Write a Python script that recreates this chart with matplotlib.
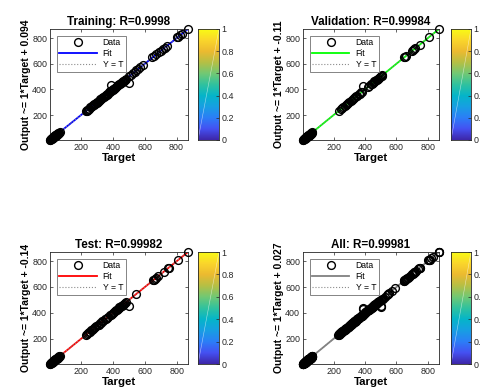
import matplotlib
matplotlib.use('Agg')
import matplotlib.pyplot as plt
import numpy as np
from matplotlib.colors import LinearSegmentedColormap

plt.rcParams['font.family'] = ['Liberation Sans', 'DejaVu Sans']

# ---- data ----
blob_t = [5, 7, 9, 11, 13, 15, 17, 19, 21, 23, 25, 27, 29, 31, 33, 35, 37, 39,
          41, 43, 45, 47, 49, 51, 53, 55, 57, 59, 62, 65]
blob_y = [6, 5, 11, 10, 15, 13, 19, 18, 22, 25, 24, 29, 28, 33, 31, 37, 35, 41,
          40, 45, 44, 49, 47, 53, 52, 57, 55, 61, 63, 66]

train_t = blob_t + [232, 236, 240, 244, 248, 252, 257, 262, 266, 270, 275, 280,
                    284, 288, 293, 298, 302, 306, 311, 316, 320, 325, 330, 334,
                    338, 343, 348, 352, 356, 361, 366, 370, 375, 380, 384, 388,
                    393, 398, 402, 407, 412, 416, 420, 425, 430, 434, 438, 443,
                    448, 452, 456, 461, 466, 470, 474, 478, 482,
                    500, 512, 525, 538, 548, 556, 570, 590, 648, 660, 672, 690,
                    700, 712, 725, 740, 805, 812, 822, 832, 870, 389, 504]
train_y = blob_y + [234, 233, 243, 242, 250, 249, 259, 260, 268, 268, 277, 278,
                    286, 287, 295, 296, 304, 305, 313, 314, 322, 323, 332, 332,
                    340, 341, 350, 350, 358, 359, 368, 368, 377, 378, 386, 387,
                    395, 396, 404, 405, 414, 414, 422, 423, 432, 432, 440, 441,
                    450, 450, 458, 459, 468, 468, 476, 476, 484,
                    502, 512, 527, 537, 550, 556, 572, 590, 650, 660, 674, 690,
                    702, 712, 727, 740, 807, 812, 824, 832, 872, 435, 452]

val_t = blob_t + [232, 245, 255, 262, 270, 278, 285, 292, 300, 308, 315, 322,
                  330, 338, 345, 352, 360, 368, 375, 380, 420, 428, 440, 445,
                  450, 455, 460, 465, 470, 475, 480, 485, 490, 495, 500, 505,
                  510, 650, 655, 660, 698, 705, 712, 720, 748, 808, 870, 390]
val_y = blob_y + [234, 244, 257, 261, 272, 277, 287, 291, 302, 307, 317, 321,
                  332, 337, 347, 351, 362, 367, 377, 379, 422, 427, 442, 444,
                  452, 454, 462, 464, 472, 474, 482, 484, 492, 494, 502, 504,
                  512, 652, 654, 662, 700, 704, 714, 719, 750, 808, 871, 430]

test_t = blob_t + [230, 236, 242, 248, 255, 262, 268, 275, 282, 290, 296, 303,
                   310, 318, 325, 332, 340, 348, 355, 362, 370, 378, 385, 392,
                   400, 408, 415, 420, 425, 430, 435, 440, 445, 450, 455, 460,
                   465, 470, 475, 480, 545, 648, 655, 662, 670, 680, 718, 745,
                   750, 808, 870, 500]
test_y = blob_y + [228, 237, 241, 250, 254, 264, 267, 277, 281, 292, 295, 305,
                   309, 320, 324, 334, 339, 350, 354, 364, 369, 380, 384, 394,
                   399, 410, 414, 422, 424, 432, 434, 442, 444, 452, 454, 462,
                   464, 472, 474, 482, 545, 650, 654, 664, 669, 682, 718, 747,
                   750, 808, 870, 450]

titles = ['Training: R=0.9998', 'Validation: R=0.99984',
          'Test: R=0.99982', 'All: R=0.99981']
intercepts = [0.094, -0.11, -0.14, 0.027]
slopes = [1, 1, 1, 1]
fit_colors = ['#0000ff', '#00ff00', '#ff0000', '#808080']
ticks = [200, 400, 600, 800]

all_t = train_t + val_t + test_t
all_y = train_y + val_y + test_y
sets = [(train_t, train_y), (val_t, val_y), (test_t, test_y), (all_t, all_y)]

parula = LinearSegmentedColormap.from_list('parula', [
    (0.2422, 0.1504, 0.6603), (0.2691, 0.3176, 0.9495), (0.1707, 0.4951, 0.9681),
    (0.0914, 0.6245, 0.8893), (0.0200, 0.7089, 0.7875), (0.1898, 0.7609, 0.6228),
    (0.4443, 0.7856, 0.4555), (0.7115, 0.7509, 0.2697), (0.9258, 0.7296, 0.1892),
    (0.9816, 0.8383, 0.1695), (0.9769, 0.9839, 0.0805)])

W, H = 481, 390
fig = plt.figure(figsize=(W / 100, H / 100), dpi=100)

# pixel boxes: (left, top, right, bottom) for axes and colorbar
ax_boxes = [(50, 29, 188, 140), (303, 29, 439, 140),
            (50, 252, 188, 364), (303, 252, 439, 364)]
cb_boxes = [(198, 29, 219, 140), (451, 29, 471, 140),
            (198, 252, 219, 364), (451, 252, 471, 364)]


def px_rect(b):
    l, t, r, btm = b
    return [l / W, (H - btm) / H, (r - l) / W, (btm - t) / H]


for i, (t, y) in enumerate(sets):
    ax = fig.add_axes(px_rect(ax_boxes[i]))
    t = np.array(t)
    y = np.array(y)
    lo = min(t.min(), y.min())
    hi = max(t.max(), y.max())
    xs = np.array([lo, hi])

    ax.plot(t, y, 'o', mfc='none', mec='black', ms=5.6, mew=1.0, label='Data',
            clip_on=False, zorder=3)
    ax.plot(xs, slopes[i] * xs + intercepts[i], '-', color=fit_colors[i],
            lw=1.3, label='Fit', zorder=2)
    ax.plot(xs, xs, ':', color='#8c8c8c', lw=0.8, label='Y = T', zorder=2)

    ax.set_xlim(lo, hi)
    ax.set_ylim(lo, hi)
    ax.set_xticks(ticks)
    ax.set_yticks(ticks)
    ax.tick_params(direction='in', top=True, right=True, length=2, width=0.5,
                   labelsize=6.4, colors='#262626', pad=2)
    for s in ax.spines.values():
        s.set_linewidth(0.6)
        s.set_color('#262626')

    ax.set_title(titles[i], fontsize=8.4, fontweight='bold', pad=3)
    ax.set_xlabel('Target', fontsize=8.2, fontweight='bold', labelpad=1)
    ax.set_ylabel('Output ~= 1*Target + %g' % intercepts[i], fontsize=7.5,
                  fontweight='bold', labelpad=1)

    leg = ax.legend(loc='upper left', fontsize=6.2, handlelength=4.3,
                    borderaxespad=0.8, fancybox=False, framealpha=1,
                    borderpad=0.3, labelspacing=0.2, handletextpad=0.7)
    leg.get_frame().set_edgecolor('#707070')
    leg.get_frame().set_linewidth(0.6)

    cax = fig.add_axes(px_rect(cb_boxes[i]))
    grad = np.linspace(0, 1, 256).reshape(-1, 1)
    cax.imshow(grad, aspect='auto', origin='lower', cmap=parula,
               extent=[0, 1, 0, 1])
    cax.plot([0, 1], [0, 1], '-', color='white', lw=0.4, alpha=0.6)
    cax.set_xlim(0, 1)
    cax.set_ylim(0, 1)
    cax.set_xticks([])
    cax.yaxis.tick_right()
    cax.set_yticks([0, 0.2, 0.4, 0.6, 0.8, 1])
    cax.set_yticklabels(['0', '0.2', '0.4', '0.6', '0.8', '1'])
    cax.tick_params(axis='y', direction='in', length=2, width=0.5,
                    labelsize=6.4, colors='#262626', pad=2)
    for s in cax.spines.values():
        s.set_linewidth(0.6)
        s.set_color('#262626')

fig.savefig('out.png', dpi=100)
plt.close(fig)
